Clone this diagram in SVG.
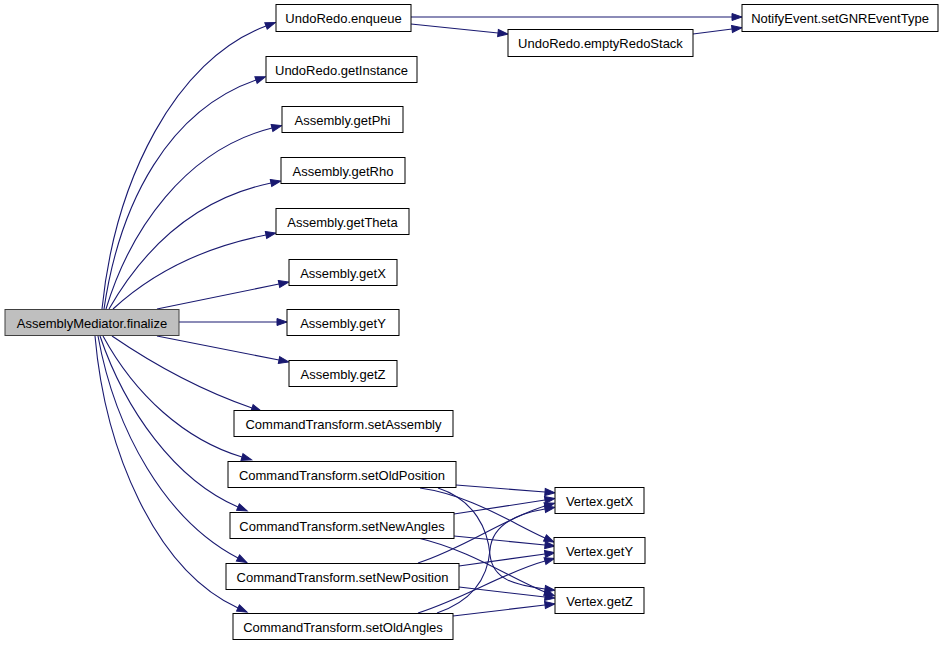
<svg xmlns="http://www.w3.org/2000/svg" width="944" height="645" viewBox="0 0 944 645">
<style>
.n rect{fill:#ffffff;stroke:#000000;stroke-width:1}
.n.root rect{fill:#bfbfbf;stroke:#404040}
.n text{font-family:"Liberation Sans",Arial,sans-serif;font-size:13px;fill:#000000;text-anchor:middle}
.e path{fill:none;stroke:#191970;stroke-width:1.1;marker-end:url(#ah)}
</style>
<defs>
<marker id="ah" markerUnits="userSpaceOnUse" markerWidth="10" markerHeight="7" refX="0" refY="3.5" orient="auto" viewBox="0 0 10 7" overflow="visible">
<polygon points="0,0 10,3.5 0,7" fill="#191970" stroke="#191970" stroke-width="1"/>
</marker>
</defs>
<rect width="944" height="645" fill="#ffffff"/>
<g id="edges" class="e">
<path d="M102,309 C115,180 175,60 266,26"/>
<path d="M104,309 C120,200 170,110 256,80"/>
<path d="M106,309 C130,230 185,150 272,128"/>
<path d="M109,309 C140,255 190,200 271,183"/>
<path d="M113,309 C150,275 200,248 266,235"/>
<path d="M157,309 L279,284"/>
<path d="M179,322 L277,322"/>
<path d="M157,336 L279,360"/>
<path d="M112,336 C150,362 200,390 252,408"/>
<path d="M103,336 C135,395 185,440 242,457"/>
<path d="M100,336 C125,410 175,480 238,507"/>
<path d="M98,336 C115,430 165,520 238,558"/>
<path d="M95,336 C105,450 155,570 238,608"/>
<path d="M411,17 L732,17"/>
<path d="M411,24 L498,33"/>
<path d="M693,34 L732,29"/>
<path d="M456,485 L545,492"/>
<path d="M420,488 C470,495 510,522 545,538"/>
<path d="M438,488 C475,500 488,530 490,555 C493,580 515,585 545,589"/>
<path d="M454,514 L545,500"/>
<path d="M454,536 L545,545"/>
<path d="M418,538 C470,550 510,578 545,592"/>
<path d="M418,563 C465,548 505,518 545,506"/>
<path d="M459,566 L545,554"/>
<path d="M459,587 L545,597"/>
<path d="M437,613 C475,600 488,575 490,550 C492,525 515,514 545,509"/>
<path d="M418,613 C465,598 505,572 545,561"/>
<path d="M453,616 L545,605"/>
</g>
<g id="n_finalize" class="n root"><rect x="5" y="309.5" width="174" height="26"/><text x="92" y="327.5">AssemblyMediator.finalize</text></g>
<g id="n_enqueue" class="n"><rect x="276" y="4.5" width="135" height="27"/><text x="343.5" y="22.5">UndoRedo.enqueue</text></g>
<g id="n_emptyRedoStack" class="n"><rect x="508" y="29.5" width="185" height="27"/><text x="600.5" y="47.5">UndoRedo.emptyRedoStack</text></g>
<g id="n_setGNREventType" class="n"><rect x="742" y="4.5" width="196" height="27"/><text x="840" y="22.5">NotifyEvent.setGNREventType</text></g>
<g id="n_getInstance" class="n"><rect x="266" y="56.5" width="151" height="26"/><text x="341.5" y="74.5">UndoRedo.getInstance</text></g>
<g id="n_getPhi" class="n"><rect x="282" y="106.5" width="121" height="26"/><text x="342.5" y="124.5">Assembly.getPhi</text></g>
<g id="n_getRho" class="n"><rect x="281" y="157.5" width="124" height="26"/><text x="343" y="175.5">Assembly.getRho</text></g>
<g id="n_getTheta" class="n"><rect x="276" y="208.5" width="133" height="26"/><text x="342.5" y="226.5">Assembly.getTheta</text></g>
<g id="n_getX" class="n"><rect x="289" y="259.5" width="108" height="26"/><text x="343" y="277.5">Assembly.getX</text></g>
<g id="n_getY" class="n"><rect x="287" y="309.5" width="112" height="26"/><text x="343" y="327.5">Assembly.getY</text></g>
<g id="n_getZ" class="n"><rect x="289" y="360.5" width="108" height="26"/><text x="343" y="378.5">Assembly.getZ</text></g>
<g id="n_setAssembly" class="n"><rect x="234" y="410.5" width="219" height="26"/><text x="343.5" y="428.5">CommandTransform.setAssembly</text></g>
<g id="n_setOldPosition" class="n"><rect x="228" y="461.5" width="228" height="26"/><text x="342" y="479.5">CommandTransform.setOldPosition</text></g>
<g id="n_setNewAngles" class="n"><rect x="230" y="512.5" width="224" height="26"/><text x="342" y="530.5">CommandTransform.setNewAngles</text></g>
<g id="n_setNewPosition" class="n"><rect x="226" y="563.5" width="233" height="26"/><text x="342.5" y="581.5">CommandTransform.setNewPosition</text></g>
<g id="n_setOldAngles" class="n"><rect x="233" y="613.5" width="220" height="26"/><text x="343" y="631.5">CommandTransform.setOldAngles</text></g>
<g id="n_vgetX" class="n"><rect x="555" y="487.5" width="89" height="26"/><text x="599.5" y="505.5">Vertex.getX</text></g>
<g id="n_vgetY" class="n"><rect x="554" y="537.5" width="91" height="26"/><text x="599.5" y="555.5">Vertex.getY</text></g>
<g id="n_vgetZ" class="n"><rect x="555" y="587.5" width="89" height="26"/><text x="599.5" y="605.5">Vertex.getZ</text></g>
</svg>
